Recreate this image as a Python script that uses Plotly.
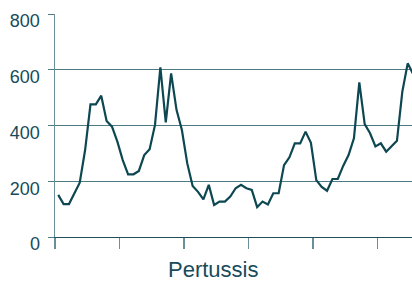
import plotly.graph_objects as go

# monthly cases
values = [151, 118, 118, 157, 195, 312, 476, 476, 507, 416, 396, 342,
          276, 225, 225, 237, 294, 315, 402, 609, 411, 587, 456, 384,
          264, 183, 162, 135, 187, 115, 127, 127, 145, 175, 187, 175,
          169, 107, 127, 117, 157, 157, 258, 286, 336, 336, 378, 338,
          204, 180, 166, 208, 208, 255, 294, 354, 555, 405, 372, 325,
          336, 306, 324, 345, 521, 623, 585]
months = [i + 0.6 for i in range(len(values))]
year_ticks = [0, 12, 24, 36, 48, 60]
y_ticks = [0, 200, 400, 600, 800]
title = "Pertussis"

line_color = "#0d4752"
text_color = "#174b5a"
grid_color = "#4f7b86"

fig = go.Figure()
fig.add_trace(go.Scatter(x=months, y=values, mode="lines",
                         line=dict(color=line_color, width=2.2),
                         hoverinfo="skip", showlegend=False))

fig.update_layout(
    width=412, height=284,
    margin=dict(l=55, r=0, t=14, b=47, autoexpand=False),
    paper_bgcolor="white", plot_bgcolor="white",
    font=dict(family="Liberation Sans, Arial, sans-serif", color=text_color, size=18),
    xaxis=dict(range=[0, 66.4], tickvals=year_ticks, showticklabels=False,
               ticks="outside", ticklen=11, tickcolor="#6b8f98", tickwidth=1.5,
               showgrid=False, zeroline=False, showline=True,
               linecolor="#1f505c", linewidth=1.2),
    yaxis=dict(range=[0, 800], tickvals=y_ticks, ticks="outside", ticklen=6,
               tickcolor=grid_color, showgrid=True, gridcolor=grid_color,
               gridwidth=1.2, zeroline=False, showline=True,
               linecolor="#6b8f98", linewidth=1.5,
               ticklabelshift=7, ticklabelstandoff=4,
               tickfont=dict(size=18, color=text_color)),
    annotations=[dict(text=title, xref="paper", yref="paper",
                      x=(213 - 55) / 357, y=-(269 - 237) / 223,
                      xanchor="center", yanchor="middle", showarrow=False,
                      font=dict(size=22, color=text_color))],
)

fig.write_html("out.html",
               config={"displayModeBar": False, "staticPlot": True},
               post_script="document.body.style.margin='0';document.body.style.overflow='hidden';")
